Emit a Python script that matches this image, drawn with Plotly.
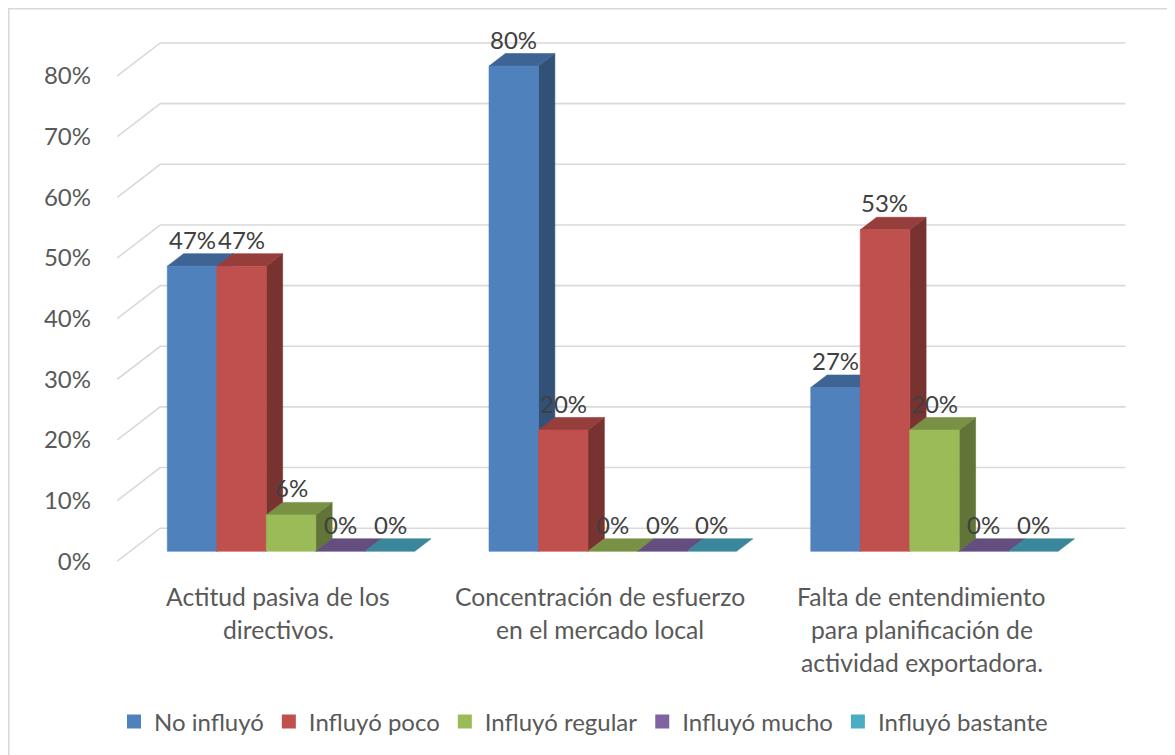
import plotly.graph_objects as go

# datos
categorias = [
    ["Actitud pasiva de los", "directivos."],
    ["Concentración de esfuerzo", "en el mercado local"],
    ["Falta de entendimiento", "para planificación de", "actividad exportadora."],
]
series = ["No influyó", "Influyó poco", "Influyó regular", "Influyó mucho", "Influyó bastante"]
no_influyo = [0.47, 0.80, 0.27]
influyo_poco = [0.47, 0.20, 0.53]
influyo_regular = [0.06, 0.00, 0.20]
influyo_mucho = [0.00, 0.00, 0.00]
influyo_bastante = [0.00, 0.00, 0.00]
ticks_y = [0, 0.1, 0.2, 0.3, 0.4, 0.5, 0.6, 0.7, 0.8]
ticks_txt = ["0%", "10%", "20%", "30%", "40%", "50%", "60%", "70%", "80%"]

valores = [no_influyo, influyo_poco, influyo_regular, influyo_mucho, influyo_bastante]
colores = ['#4F81BD', '#C0504D', '#9BBB59', '#8064A2', '#4BACC6']

# geometria del pseudo 3D (unidades de los ejes)
GRUPO = 6.5
MEDIO_HUECO = 0.75
DX, DY = 0.869, 0.0544
D_FRENTE, D_FONDO, D_BARRA = -0.30, 0.70, 0.38
FUENTE = 'Lato'
TAM = 24
GRIS = '#D9D9D9'

# la pagina deja 8px de margen en body; el area de trazado se corre para compensar
ML, MT, ANCHO, ALTO = 108, 22, 1014, 550


def proj(u, v, d):
    return u + d * DX, v + d * DY


def tono(hexcol, f):
    r, g, b = (int(hexcol[i:i + 2], 16) for i in (1, 3, 5))
    return 'rgb(%d,%d,%d)' % (r * f, g * f, b * f)


def poligono(puntos, color):
    xs = [p[0] for p in puntos] + [puntos[0][0]]
    ys = [p[1] for p in puntos] + [puntos[0][1]]
    return go.Scatter(x=xs, y=ys, mode='lines', fill='toself', fillcolor=color,
                      line=dict(color=color, width=0.6), hoverinfo='skip', showlegend=False)


fig = go.Figure()

# paredes con lineas de cuadricula
u_izq = -MEDIO_HUECO
u_der = GRUPO * (len(categorias) - 1) + len(series) + MEDIO_HUECO
gx, gy = [], []
for t in ticks_y:
    for p in (proj(u_izq, t, D_FRENTE), proj(u_izq, t, D_FONDO), proj(u_der, t, D_FONDO)):
        gx.append(p[0])
        gy.append(p[1])
    gx.append(None)
    gy.append(None)
fig.add_trace(go.Scatter(x=gx, y=gy, mode='lines', line=dict(color=GRIS, width=1.6),
                         hoverinfo='skip', showlegend=False))

# barras
anotaciones = []
for g in range(len(categorias)):
    for s in range(len(series)):
        h = valores[s][g]
        x0 = g * GRUPO + s
        x1 = x0 + 1
        c = colores[s]
        lado = [proj(x1, 0, 0), proj(x1, 0, D_BARRA), proj(x1, h, D_BARRA), proj(x1, h, 0)]
        techo = [proj(x0, h, 0), proj(x1, h, 0), proj(x1, h, D_BARRA), proj(x0, h, D_BARRA)]
        frente = [proj(x0, 0, 0), proj(x1, 0, 0), proj(x1, h, 0), proj(x0, h, 0)]
        if h > 0:
            fig.add_trace(poligono(lado, tono(c, 0.63)))
        fig.add_trace(poligono(techo, tono(c, 0.78)))
        if h > 0:
            fig.add_trace(poligono(frente, c))
        anotaciones.append(dict(x=x0 + 0.5, y=h, yshift=27, text='%d%%' % round(h * 100),
                                showarrow=False, yanchor='middle',
                                font=dict(family=FUENTE, size=TAM, color='#404040')))

# etiquetas de categoria
for g, lineas in enumerate(categorias):
    cx, cy = proj(g * GRUPO + len(series) / 2, 0, D_FRENTE)
    for i, linea in enumerate(lineas):
        anotaciones.append(dict(x=cx, y=cy, yshift=-(35 + 33 * i), text=linea,
                                showarrow=False, yanchor='middle', xanchor='center',
                                font=dict(family=FUENTE, size=24.7, color='#595959')))

# entradas de leyenda
for nombre, c in zip(series, colores):
    fig.add_trace(go.Scatter(x=[None], y=[None], name=nombre, mode='markers',
                             marker=dict(symbol='square', size=14, color=c)))

y_ticks = [proj(u_izq, t, D_FRENTE)[1] for t in ticks_y]

fig.update_layout(
    width=1175, height=755,
    margin=dict(l=ML, r=1175 - ML - ANCHO, t=MT, b=755 - MT - ALTO, autoexpand=False),
    paper_bgcolor='white', plot_bgcolor='white',
    xaxis=dict(range=[-1.036, 19.45], visible=False, fixedrange=True),
    yaxis=dict(range=[-0.0473, 0.8595], tickvals=y_ticks, ticktext=ticks_txt,
               showgrid=False, zeroline=False, showline=False, ticks='',
               ticklabelstandoff=24, automargin=False, fixedrange=True,
               tickfont=dict(family=FUENTE, size=TAM, color='#595959')),
    showlegend=True,
    legend=dict(orientation='h', x=(575.5 - ML) / ANCHO, xanchor='center',
                y=(MT + ALTO - 714) / ALTO, yanchor='middle',
                font=dict(family=FUENTE, size=TAM, color='#595959'), itemclick=False),
    annotations=anotaciones,
    shapes=[dict(type='rect', xref='paper', yref='paper',
                 x0=(0.8 - ML) / ANCHO, x1=(1180 - ML) / ANCHO,
                 y0=(MT + ALTO - 760) / ALTO, y1=(MT + ALTO - 0.8) / ALTO,
                 line=dict(color=GRIS, width=1.6))],
)

fig.write_html("out.html")
